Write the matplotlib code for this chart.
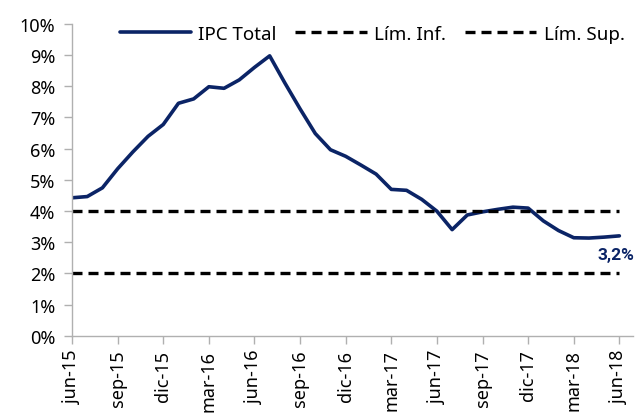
import matplotlib
matplotlib.use("Agg")
import matplotlib.pyplot as plt
from matplotlib.ticker import FuncFormatter

# IPC annual variation, jun-15 .. jun-18 (monthly, %)
ipc = [4.42, 4.46, 4.74, 5.35, 5.89, 6.39, 6.77,
       7.45, 7.59, 7.98, 7.93, 8.20, 8.60, 8.97, 8.10, 7.27, 6.48, 5.96, 5.75,
       5.47, 5.18, 4.69, 4.66, 4.37, 3.99, 3.40, 3.87, 3.97, 4.05, 4.12, 4.09,
       3.68, 3.37, 3.14, 3.13, 3.16, 3.20]
lim_inf = [2.0] * len(ipc)
lim_sup = [4.0] * len(ipc)
tick_labels = ["jun-15", "sep-15", "dic-15", "mar-16", "jun-16", "sep-16",
               "dic-16", "mar-17", "jun-17", "sep-17", "dic-17", "mar-18", "jun-18"]

plt.rcParams['font.family'] = ['Noto Sans', 'DejaVu Sans']
navy = '#0b2466'

fig = plt.figure(figsize=(6.39, 4.14), dpi=100)
ax = fig.add_axes([0.1127, 0.1867, 0.878, 0.7536])

x = list(range(len(ipc)))
ax.plot(x, ipc, color=navy, lw=2.6, solid_joinstyle='round', solid_capstyle='round', label='IPC Total')
ax.plot(x, lim_inf, color='black', lw=2.4, ls=(0, (3.0, 1.8)), label='Lím. Inf.')
ax.plot(x, lim_sup, color='black', lw=2.4, ls=(0, (3.0, 1.8)), label='Lím. Sup.')

ax.text(x[-1] + 1.0, ipc[-1] - 0.6, '3,2%', color=navy, fontsize=12.5, fontweight='bold',
        family=['Roboto', 'DejaVu Sans'], ha='right', va='center')

ax.set_xlim(0, 36.9)
ax.set_ylim(0, 10)
ax.set_yticks(range(0, 11))
ax.yaxis.set_major_formatter(FuncFormatter(lambda v, p: f"{int(v)}%"))
ax.set_xticks(range(0, len(ipc), 3))
ax.set_xticklabels(tick_labels, rotation=90)

for s in ['top', 'right']:
    ax.spines[s].set_visible(False)
for s in ['left', 'bottom']:
    ax.spines[s].set_color('#b0b0b0')
    ax.spines[s].set_linewidth(1.0)
ax.tick_params(axis='both', colors='#b0b0b0', labelcolor='black', labelsize=13, length=6, width=1.0)
ax.tick_params(axis='y', pad=6)
ax.tick_params(axis='x', pad=4)

leg = ax.legend(loc='upper center', bbox_to_anchor=(0.535, 1.05), ncol=3, frameon=False,
                fontsize=13.5, handlelength=3.8, handletextpad=0.4, columnspacing=1.0)

fig.savefig('out.png', dpi=100)
